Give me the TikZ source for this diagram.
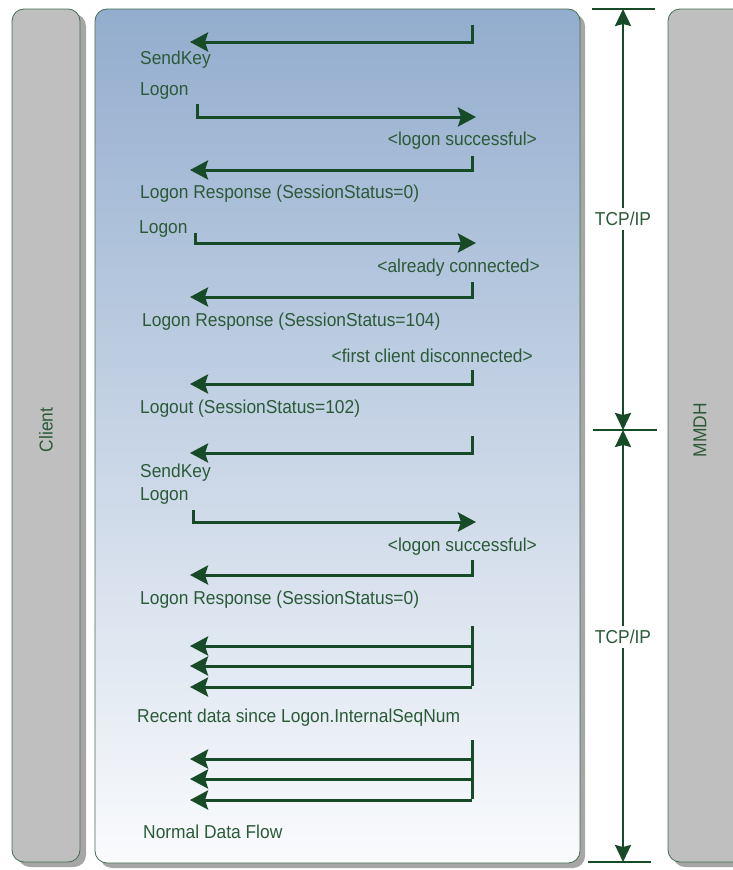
\documentclass[tikz,border=0pt]{standalone}
\usepackage{fontspec}
\setmainfont[FakeStretch=0.93]{Liberation Sans}
\usetikzlibrary{arrows.meta}
\definecolor{dkgreen}{HTML}{174A26}
\definecolor{txtgreen}{HTML}{2B5A38}
\definecolor{bargray}{HTML}{BFBFBF}
\definecolor{shadowgray}{HTML}{A6A6A6}
\definecolor{topblue}{HTML}{93ADCE}
\definecolor{botblue}{HTML}{FAFBFD}
\begin{document}
\begin{tikzpicture}[x=1pt,y=-1pt,
  msg/.style={line width=3pt, draw=dkgreen, line join=miter, -{Stealth[length=18pt,width=19pt,inset=3pt]}},
  plain/.style={line width=3pt, draw=dkgreen},
  dim/.style={line width=2.4pt, draw=dkgreen, -{Stealth[length=17pt,width=16pt,inset=2pt]}},
  tick/.style={line width=2.4pt, draw=dkgreen},
  lbl/.style={text=txtgreen, font=\fontsize{18.7}{21}\selectfont, inner sep=0pt, anchor=west},
  lblr/.style={lbl, anchor=east},
  bar/.style={fill=bargray, draw=dkgreen!80, line width=0.8pt, rounded corners=12pt},
  shadow/.style={fill=shadowgray, rounded corners=12pt},
  vlbl/.style={text=txtgreen, font=\fontsize{18.7}{21}\selectfont, rotate=90, inner sep=0pt}]
\useasboundingbox (0,0) rectangle (733,870);
% shadows
\fill[shadow] (18,14) rectangle (86,867);
\fill[shadow] (100,14) rectangle (585,868);
\fill[shadow] (673,14) rectangle (760,867);
% client bar
\path[bar] (12,9) rectangle (80,862);
\node[vlbl] (client) at (46,430) {Client};
% main box
\shade[top color=topblue, bottom color=botblue, rounded corners=12pt] (95,9) rectangle (580,863);
\draw[draw=dkgreen!80, line width=0.8pt, rounded corners=12pt] (95,9) rectangle (580,863);
% MMDH bar
\path[bar] (668,9) rectangle (755,862);
\node[vlbl] (mmdh) at (700,430) {MMDH};

% messages
\coordinate (m1s) at (472,25);  \coordinate (m1e) at (190,42);
\coordinate (m2s) at (197,104); \coordinate (m2e) at (476,117);
\coordinate (m3s) at (472,156); \coordinate (m3e) at (190,170);
\coordinate (m4s) at (195,233); \coordinate (m4e) at (476,243);
\coordinate (m5s) at (472,282); \coordinate (m5e) at (190,297);
\coordinate (m6s) at (472,370); \coordinate (m6e) at (190,384);
\coordinate (m7s) at (472,436); \coordinate (m7e) at (190,453);
\coordinate (m8s) at (193,510); \coordinate (m8e) at (476,522);
\coordinate (m9s) at (472,560); \coordinate (m9e) at (190,575);
\draw[msg] (m1s) |- (m1e);
\draw[msg] (m2s) |- (m2e);
\draw[msg] (m3s) |- (m3e);
\draw[msg] (m4s) |- (m4e);
\draw[msg] (m5s) |- (m5e);
\draw[msg] (m6s) |- (m6e);
\draw[msg] (m7s) |- (m7e);
\draw[msg] (m8s) |- (m8e);
\draw[msg] (m9s) |- (m9e);

% triple arrows
\coordinate (r0) at (472,626); \coordinate (r3) at (472,687);
\coordinate (r1) at (472,646); \coordinate (r2) at (472,666);
\coordinate (r1e) at (190,646); \coordinate (r2e) at (190,666); \coordinate (r3e) at (190,687);
\draw[plain] (r0) -- ([yshift=1.5pt]r3);
\draw[msg] (r1) -- (r1e);
\draw[msg] (r2) -- (r2e);
\draw[msg] (r3) -- (r3e);
\coordinate (n0) at (472,740); \coordinate (n3) at (472,800);
\coordinate (n1) at (472,759); \coordinate (n2) at (472,779);
\coordinate (n1e) at (190,759); \coordinate (n2e) at (190,779); \coordinate (n3e) at (190,800);
\draw[plain] (n0) -- ([yshift=1.5pt]n3);
\draw[msg] (n1) -- (n1e);
\draw[msg] (n2) -- (n2e);
\draw[msg] (n3) -- (n3e);

% labels
\node[lbl] (t1) at (140,60) {SendKey};
\node[lbl] (t2) at (140,91) {Logon};
\node[lblr] (t3) at (537,141) {<logon successful>};
\node[lbl] (t4) at (140,194) {Logon Response (SessionStatus=0)};
\node[lbl] (t5) at (139,229) {Logon};
\node[lblr] (t6) at (540,268) {<already connected>};
\node[lbl] (t7) at (142,322) {Logon Response (SessionStatus=104)};
\node[lblr] (t8) at (533,356) {<first client disconnected>};
\node[lbl] (t9) at (140,409) {Logout (SessionStatus=102)};
\node[lbl] (t10) at (140,473) {SendKey};
\node[lbl] (t11) at (140,496) {Logon};
\node[lblr] (t12) at (537,547) {<logon successful>};
\node[lbl] (t13) at (140,600) {Logon Response (SessionStatus=0)};
\node[lbl] (t14) at (137,718) {Recent data since Logon.InternalSeqNum};
\node[lbl] (t15) at (143,832) {Normal Data Flow};

% dimension lines
\coordinate (dt1) at (592,9);   \coordinate (dt2) at (655,9);
\coordinate (dm1) at (593,430); \coordinate (dm2) at (657,430);
\coordinate (db1) at (588,862); \coordinate (db2) at (651,862);
\draw[tick] (dt1) -- (dt2);
\draw[tick] (dm1) -- (dm2);
\draw[tick] (db1) -- (db2);
\coordinate (dtop) at (623,9);
\coordinate (dmid) at (623,430);
\coordinate (dbot) at (623,862);
\node[text=txtgreen, font=\fontsize{18.7}{21}\selectfont, inner sep=4pt] (tcp1) at (623,219) {TCP/IP};
\node[text=txtgreen, font=\fontsize{18.7}{21}\selectfont, inner sep=4pt] (tcp2) at (623,637) {TCP/IP};
\draw[dim] (tcp1.north) -- (dtop);
\draw[dim] (tcp1.south) -- (dmid);
\draw[dim] (tcp2.north) -- (dmid);
\draw[dim] (tcp2.south) -- (dbot);
\end{tikzpicture}
\end{document}
